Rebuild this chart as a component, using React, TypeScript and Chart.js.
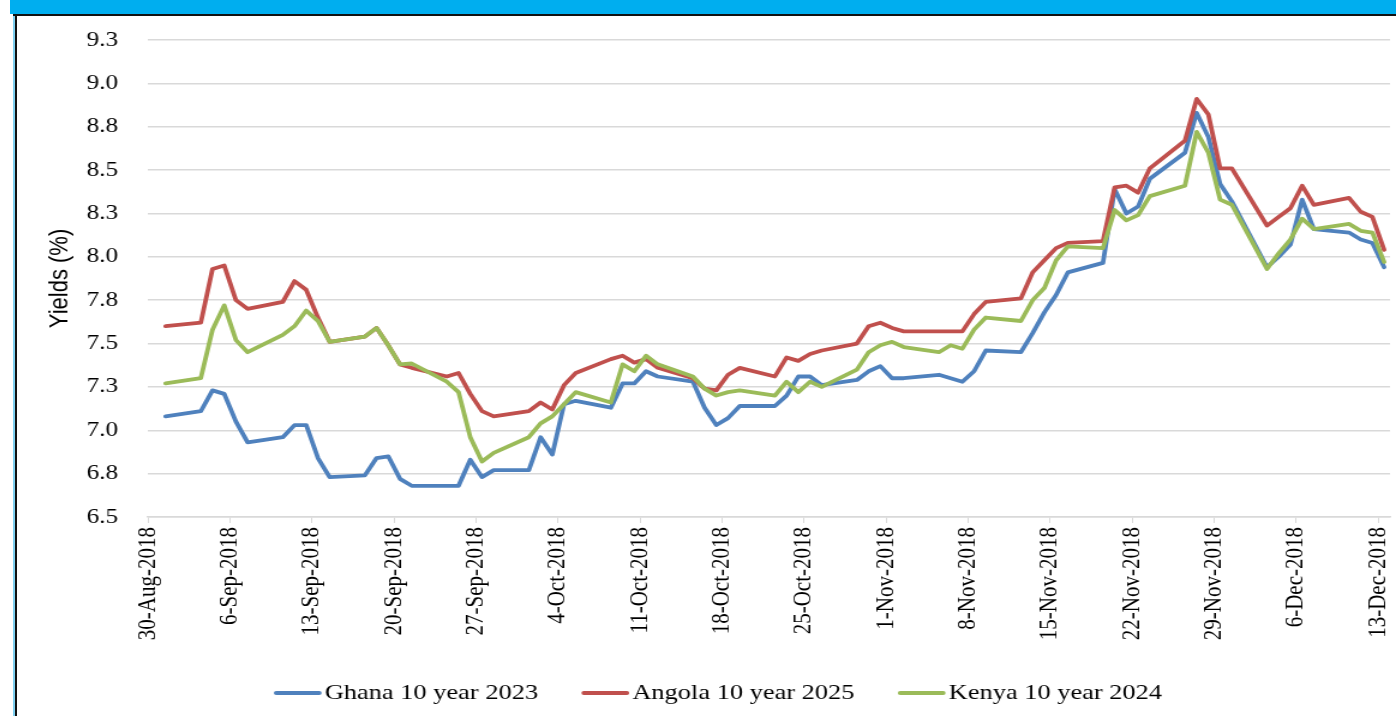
import React, { useEffect, useRef } from 'react';
import { Chart, registerables } from 'chart.js';

Chart.register(...registerables);

// ---------- data ----------
const tradeDates = [
  '2018-08-31',
  '2018-09-03', '2018-09-04', '2018-09-05', '2018-09-06', '2018-09-07',
  '2018-09-10', '2018-09-11', '2018-09-12', '2018-09-13', '2018-09-14',
  '2018-09-17', '2018-09-18', '2018-09-19', '2018-09-20', '2018-09-21',
  '2018-09-24', '2018-09-25', '2018-09-26', '2018-09-27', '2018-09-28',
  '2018-10-01', '2018-10-02', '2018-10-03', '2018-10-04', '2018-10-05',
  '2018-10-08', '2018-10-09', '2018-10-10', '2018-10-11', '2018-10-12',
  '2018-10-15', '2018-10-16', '2018-10-17', '2018-10-18', '2018-10-19',
  '2018-10-22', '2018-10-23', '2018-10-24', '2018-10-25', '2018-10-26',
  '2018-10-29', '2018-10-30', '2018-10-31', '2018-11-01', '2018-11-02',
  '2018-11-05', '2018-11-06', '2018-11-07', '2018-11-08', '2018-11-09',
  '2018-11-12', '2018-11-13', '2018-11-14', '2018-11-15', '2018-11-16',
  '2018-11-19', '2018-11-20', '2018-11-21', '2018-11-22', '2018-11-23',
  '2018-11-26', '2018-11-27', '2018-11-28', '2018-11-29', '2018-11-30',
  '2018-12-03', '2018-12-04', '2018-12-05', '2018-12-06', '2018-12-07',
  '2018-12-10', '2018-12-11', '2018-12-12', '2018-12-13',
];

const ghana = [
  7.08,
  7.11, 7.23, 7.21, 7.05, 6.93,
  6.96, 7.03, 7.03, 6.84, 6.73,
  6.74, 6.84, 6.85, 6.72, 6.68,
  6.68, 6.68, 6.83, 6.73, 6.77,
  6.77, 6.96, 6.86, 7.15, 7.17,
  7.13, 7.27, 7.27, 7.34, 7.31,
  7.28, 7.13, 7.03, 7.07, 7.14,
  7.14, 7.20, 7.31, 7.31, 7.26,
  7.29, 7.34, 7.37, 7.30, 7.30,
  7.32, 7.30, 7.28, 7.34, 7.46,
  7.45, 7.56, 7.68, 7.78, 7.91,
  7.965, 8.39, 8.25, 8.29, 8.45,
  8.60, 8.83, 8.69, 8.42, 8.32,
  7.94, 8.00, 8.07, 8.33, 8.16,
  8.14, 8.10, 8.08, 7.94,
];

const angola = [
  7.60,
  7.62, 7.93, 7.95, 7.75, 7.70,
  7.74, 7.86, 7.81, 7.65, 7.51,
  7.54, 7.59, 7.49, 7.38, 7.36,
  7.31, 7.33, 7.21, 7.11, 7.08,
  7.11, 7.16, 7.12, 7.26, 7.33,
  7.41, 7.43, 7.39, 7.41, 7.36,
  7.30, 7.24, 7.23, 7.32, 7.36,
  7.31, 7.42, 7.40, 7.44, 7.46,
  7.50, 7.60, 7.62, 7.59, 7.57,
  7.57, 7.57, 7.57, 7.67, 7.74,
  7.76, 7.91, 7.98, 8.05, 8.08,
  8.09, 8.40, 8.41, 8.37, 8.51,
  8.67, 8.91, 8.82, 8.51, 8.51,
  8.18, 8.23, 8.28, 8.41, 8.30,
  8.34, 8.26, 8.23, 8.04,
];

const kenya = [
  7.27,
  7.30, 7.58, 7.72, 7.52, 7.45,
  7.55, 7.60, 7.69, 7.63, 7.51,
  7.54, 7.59, 7.49, 7.38, 7.385,
  7.28, 7.22, 6.96, 6.82, 6.87,
  6.96, 7.04, 7.08, 7.15, 7.22,
  7.16, 7.38, 7.34, 7.43, 7.38,
  7.31, 7.24, 7.20, 7.22, 7.23,
  7.20, 7.28, 7.22, 7.28, 7.25,
  7.35, 7.45, 7.49, 7.51, 7.48,
  7.45, 7.49, 7.47, 7.58, 7.65,
  7.63, 7.75, 7.82, 7.98, 8.06,
  8.05, 8.27, 8.21, 8.24, 8.35,
  8.41, 8.72, 8.60, 8.33, 8.30,
  7.93, 8.02, 8.10, 8.22, 8.16,
  8.19, 8.15, 8.14, 7.97,
];

const seriesNames = ['Ghana 10 year 2023', 'Angola 10 year 2025', 'Kenya 10 year 2024'];
const seriesColors = ['#4F81BD', '#C0504D', '#9BBB59'];

const xTickLabels = [
  '30-Aug-2018', '6-Sep-2018', '13-Sep-2018', '20-Sep-2018', '27-Sep-2018',
  '4-Oct-2018', '11-Oct-2018', '18-Oct-2018', '25-Oct-2018', '1-Nov-2018',
  '8-Nov-2018', '15-Nov-2018', '22-Nov-2018', '29-Nov-2018', '6-Dec-2018',
  '13-Dec-2018',
];
const axisStartDate = '2018-08-30';
const axisDays = 106;
const tickEveryDays = 7;

const yMin = 6.5;
const yMax = 9.25;
const yStep = 0.25;
const yTitle = 'Yields (%)';

// ---------- layout (logical canvas units, stretched horizontally by SX) ----------
const SX = 1.2;
const CANVAS_W = 1149;
const CANVAS_H = 700;
const SERIF = '"Liberation Serif", "Times New Roman", serif';
const LINE_WIDTH = 3.8;

const LEGEND = { centerX: 585, y: 677, lineLen: 36, textGap: 4.5, itemGap: 38, fontSize: 22 };

const dayIndex = (iso: string) =>
  Math.round((Date.parse(iso) - Date.parse(axisStartDate)) / 86400000);

const lineLegendPlugin = {
  id: 'lineLegend',
  afterDraw(chart: any) {
    const ctx = chart.ctx as CanvasRenderingContext2D;
    ctx.save();
    ctx.font = `${LEGEND.fontSize}px ${SERIF}`;
    const items = chart.data.datasets.map((ds: any) => ({
      text: ds.label as string,
      color: ds.borderColor as string,
      w: ctx.measureText(ds.label).width,
    }));
    const total =
      items.reduce((a: number, it: any) => a + LEGEND.lineLen + LEGEND.textGap + it.w, 0) +
      LEGEND.itemGap * (items.length - 1);
    let x = LEGEND.centerX - total / 2;
    items.forEach((it: any) => {
      ctx.strokeStyle = it.color;
      ctx.lineWidth = LINE_WIDTH;
      ctx.lineCap = 'round';
      ctx.beginPath();
      ctx.moveTo(x, LEGEND.y);
      ctx.lineTo(x + LEGEND.lineLen, LEGEND.y);
      ctx.stroke();
      ctx.fillStyle = '#000';
      ctx.textAlign = 'left';
      ctx.textBaseline = 'middle';
      ctx.fillText(it.text, x + LEGEND.lineLen + LEGEND.textGap, LEGEND.y);
      x += LEGEND.lineLen + LEGEND.textGap + it.w + LEGEND.itemGap;
    });
    ctx.restore();
  },
};

function App() {
  const ref = useRef<HTMLCanvasElement | null>(null);

  useEffect(() => {
    if (!ref.current) return;
    const seriesValues = [ghana, angola, kenya];
    const datasets = seriesValues.map((vals, s) => ({
      label: seriesNames[s],
      data: tradeDates.map((d, i) => ({ x: dayIndex(d) + 0.5, y: vals[i] })),
      borderColor: seriesColors[s],
      backgroundColor: seriesColors[s],
      borderWidth: LINE_WIDTH,
      pointRadius: 0,
      pointHoverRadius: 0,
      tension: 0,
      borderCapStyle: 'round' as const,
      borderJoinStyle: 'round' as const,
      fill: false,
      order: 3 - s,
    }));

    const chart = new Chart(ref.current, {
      type: 'line',
      data: { datasets },
      plugins: [lineLegendPlugin],
      options: {
        animation: false,
        responsive: false,
        devicePixelRatio: 1,
        parsing: false,
        normalized: true,
        layout: { autoPadding: false, padding: { left: 19, right: 5, top: 24, bottom: 72 } },
        plugins: {
          tooltip: { enabled: false },
          legend: { display: false },
        },
        scales: {
          x: {
            type: 'linear',
            min: 0,
            max: axisDays,
            afterBuildTicks: (scale: any) => {
              scale.ticks = xTickLabels.map((_, i) => ({ value: i * tickEveryDays }));
            },
            afterFit: (scale: any) => {
              scale.height = 127;
              scale.paddingLeft = 0;
              scale.paddingRight = 0;
            },
            ticks: {
              autoSkip: false,
              minRotation: 90,
              maxRotation: 90,
              padding: 4,
              color: '#000',
              font: { family: SERIF, size: 21 },
              callback: (_v: any, i: number) => xTickLabels[i],
            },
            grid: {
              display: true,
              drawOnChartArea: false,
              drawTicks: true,
              tickLength: 6,
              color: '#d9d9d9',
              lineWidth: 1,
            },
            border: { display: true, color: '#d9d9d9', width: 1.5 },
          },
          y: {
            type: 'linear',
            min: yMin,
            max: yMax,
            afterFit: (scale: any) => {
              scale.width = 90.2;
              scale.paddingTop = 0;
              scale.paddingBottom = 0;
            },
            ticks: {
              stepSize: yStep,
              padding: 25,
              color: '#000',
              font: { family: SERIF, size: 21 },
              callback: (v: any) => Number(v).toFixed(1),
            },
            grid: {
              drawTicks: false,
              color: '#d9d9d9',
              lineWidth: 1.5,
            },
            border: { display: false },
            title: {
              display: true,
              text: yTitle,
              color: '#000',
              padding: { top: 4, bottom: 4 },
              font: { family: '"Liberation Sans", Arial, sans-serif', size: 22 },
            },
          },
        },
      },
    });
    return () => chart.destroy();
  }, []);

  return (
    <div style={{ position: 'fixed', left: 0, top: 0, width: 1396, height: 716, background: '#fff', overflow: 'hidden' }}>
      <div style={{ position: 'absolute', left: 10, top: 0, right: 0, height: 14, background: '#00AEEF' }} />
      <div style={{ position: 'absolute', left: 13, top: 14, width: 2, bottom: 0, background: '#7FD0F0' }} />
      <div style={{ position: 'absolute', left: 15, top: 14, width: 2, bottom: 0, background: '#111' }} />
      <div style={{ position: 'absolute', left: 13, top: 14, right: 0, height: 2, background: '#111' }} />
      <canvas
        ref={ref}
        width={CANVAS_W}
        height={CANVAS_H}
        style={{ position: 'absolute', left: 17, top: 16, width: CANVAS_W * SX, height: CANVAS_H }}
      />
    </div>
  );
}

export default App;
